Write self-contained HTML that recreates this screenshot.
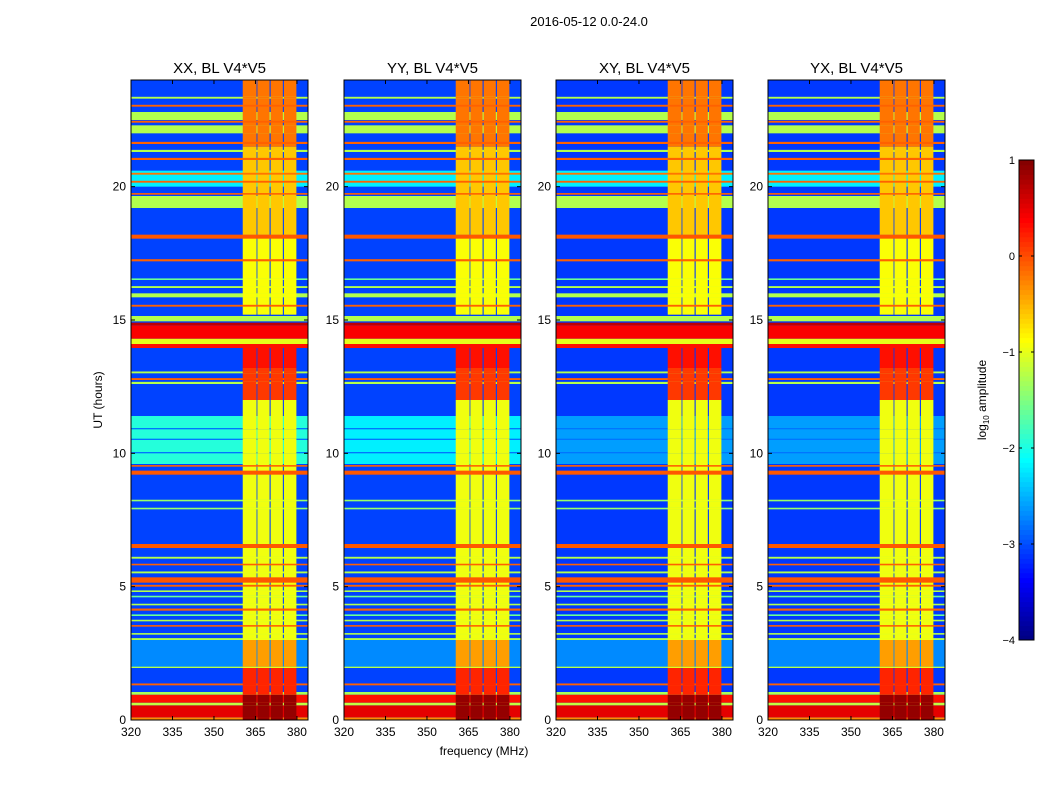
<!DOCTYPE html>
<html><head><meta charset="utf-8"><style>
body{margin:0;background:#fff;}
svg text{font-family:"Liberation Sans","DejaVu Sans",sans-serif;}
</style></head><body>
<svg id="fig" width="1050" height="800" xmlns="http://www.w3.org/2000/svg">
<text x="589" y="26" font-size="13" text-anchor="middle">2016-05-12 0.0-24.0</text>
<text x="484" y="755" font-size="12" text-anchor="middle">frequency (MHz)</text>
<text x="102" y="400" font-size="12" text-anchor="middle" transform="rotate(-90 102 400)">UT (hours)</text>
<g id="panels"></g>
<g id="cbar"></g>
<text x="986" y="400" font-size="12" text-anchor="middle" transform="rotate(-90 986 400)">log<tspan font-size="8" dy="3">10</tspan><tspan dy="-3"> amplitude</tspan></text>
</svg>
<script>
// ---- data ----
const panelTitles = ["XX, BL V4*V5","YY, BL V4*V5","XY, BL V4*V5","YX, BL V4*V5"];
const xTicks = [320,335,350,365,380];
const yTicks = [0,5,10,15,20];
const cbTicks = [1,0,-1,-2,-3,-4];
const backgroundLevel = [-3.05,-3.05,-3.1,-3.1];
const quietLevel = [-1.95,-2.2,-2.6,-2.6]; // 9.6-11.4 h region
// time bands: [startHour, endHour, log10 amplitude]
const bandStart = [0.0,0.1,0.55,0.65,0.95,1.3,1.95,2.0,3.0,3.2,3.5,3.7,3.9,4.1,4.3,4.6,4.8,5.0,5.15,5.5,5.8,6.05,6.45,7.9,8.2,9.2,9.5,10.0,10.5,10.9,12.6,12.75,13.0,13.95,14.1,14.3,14.8,14.95,15.5,15.85,16.2,16.5,17.2,18.05,19.2,19.7,20.15,20.45,21.0,21.3,21.6,22.0,22.4,22.5,23.0,23.3];
const bandEnd   = [0.1,0.55,0.65,0.95,1.05,1.37,2.05,3.0,3.07,3.26,3.56,3.76,3.96,4.18,4.36,4.66,4.86,5.07,5.35,5.57,5.86,6.12,6.6,7.96,8.26,9.35,9.56,10.05,10.55,10.95,12.68,12.82,13.07,14.1,14.3,14.8,14.9,15.15,15.57,16.0,16.27,16.56,17.28,18.2,19.65,19.76,20.22,20.52,21.08,21.38,21.68,22.3,22.47,22.8,23.07,23.37];
const bandValue = [-0.3,0.5,-1.2,0.3,-1.3,-0.1,-1.25,-2.7,-1.25,-1.25,-0.1,-1.25,-1.6,-0.1,-1.25,-1.6,-1.25,-0.1,-0.05,-1.25,-0.1,-1.25,-0.05,-1.4,-1.4,-0.05,-0.1,-2.8,-2.8,-2.8,-1.25,-0.1,-1.25,0.3,-1.0,0.4,0.7,-1.25,-0.1,-1.25,-1.25,-1.6,-0.1,-0.05,-1.25,-0.1,-0.1,-0.2,-0.1,-1.25,-0.1,-1.25,-0.1,-1.25,-0.1,-1.25];
// bright channels [startMHz, endMHz]
const chanStart = [360.4,365.7,370.5,375.3];
const chanEnd   = [365.4,370.1,374.9,379.8];
// channel activity over time
const chanBandStart = [0,1.0,2.0,2.4,2.8,12.0,13.2,15.2,18.2,21.5];
const chanBandEnd   = [1.0,2.0,2.4,2.8,12.0,13.2,13.95,18.2,21.5,24];
const chanBandValue = [0.9,0.2,-1.0,-0.4,-0.95,0.1,0.3,-0.9,-0.6,-0.2];

// ---- rendering ----
const NS="http://www.w3.org/2000/svg";
function jet(v){const t=Math.max(0,Math.min(1,(v+4)/5));
 const c=x=>Math.round(255*Math.max(0,Math.min(1,1.5-Math.abs(x))));
 return `rgb(${c(4*t-3)},${c(4*t-2)},${c(4*t-1)})`;}
function el(tag,attrs,parent){const e=document.createElementNS(NS,tag);for(const k in attrs)e.setAttribute(k,attrs[k]);parent.appendChild(e);return e;}
const panelX=[131,344,556,768], PW=177, PT=80, PB=720;
const fmin=320,fmax=384,hmin=0,hmax=24;
const root=document.getElementById('panels');
panelX.forEach((px,p)=>{
 const xs=f=>px+(f-fmin)/(fmax-fmin)*PW;
 const ys=h=>PB-(h-hmin)/(hmax-hmin)*(PB-PT);
 const g=el('g',{},root);
 
 
 const bg=el('rect',{x:px,y:PT,width:PW,height:PB-PT,fill:jet(backgroundLevel[p])},g);
 
 
 const q=el('rect',{x:px,y:ys(11.4),width:PW,height:ys(9.6)-ys(11.4),fill:jet(quietLevel[p])},g);
 
 
 const q2=el('rect',{x:px,y:ys(20.6),width:PW,height:ys(20.0)-ys(20.6),fill:jet(-2.2)},g);
 
 
 for(let c=0;c<chanStart.length;c++){
  for(let b=0;b<chanBandStart.length;b++){
   const r=el('rect',{x:xs(chanStart[c]),y:ys(chanBandEnd[b]),width:xs(chanEnd[c])-xs(chanStart[c]),height:ys(chanBandStart[b])-ys(chanBandEnd[b]),fill:jet(chanBandValue[b])},g);
   
   
  }
 }
 for(let b=0;b<bandStart.length;b++){
  const y0=ys(bandEnd[b]), hh=Math.max(1,ys(bandStart[b])-ys(bandEnd[b]));
  const r=el('rect',{x:px,y:y0,width:PW,height:hh,fill:jet(bandValue[b])},g);
  
  
  for(let c=0;c<chanStart.length;c++){
   const mid=(bandStart[b]+bandEnd[b])/2;
   let cv=null;
   for(let k=0;k<chanBandStart.length;k++) if(mid>=chanBandStart[k]&&mid<chanBandEnd[k]) cv=chanBandValue[k];
   if(cv!==null && cv>bandValue[b]){
    const o=el('rect',{x:xs(chanStart[c]),y:y0,width:xs(chanEnd[c])-xs(chanStart[c]),height:hh,fill:jet(cv)},g);
    
    
   }
  }
 }
 const fr=el('rect',{x:px,y:PT,width:PW,height:PB-PT,fill:'none',stroke:'#000','stroke-width':1},g);
 
 
 const t=el('text',{x:px+PW/2,y:73,'font-size':15,'text-anchor':'middle'},g);
 t.textContent=panelTitles[p];
 
 
 xTicks.forEach(v=>{
  const x=xs(v);
  el('line',{x1:x,x2:x,y1:PB,y2:PB-4,stroke:'#000'},g);
  el('line',{x1:x,x2:x,y1:PT,y2:PT+4,stroke:'#000'},g);
  const tx=el('text',{x:x,y:PB+16,'font-size':12,'text-anchor':'middle'},g);
  tx.textContent=v;
  
  
 });
 yTicks.forEach(v=>{
  const y=ys(v);
  el('line',{x1:px,x2:px+4,y1:y,y2:y,stroke:'#000'},g);
  el('line',{x1:px+PW,x2:px+PW-4,y1:y,y2:y,stroke:'#000'},g);
  const ty=el('text',{x:px-5,y:y+4,'font-size':12,'text-anchor':'end'},g);
  ty.textContent=v;
  
  
 });
});
const cb=document.getElementById('cbar');
const CX=1019,CW=15,CT=160,CB=640;
const cy=v=>CB-(v+4)/5*(CB-CT);
for(let i=0;i<100;i++){
 const v0=-4+i*0.05;
 const r=el('rect',{x:CX,y:cy(v0+0.05),width:CW,height:cy(v0)-cy(v0+0.05)+0.5,fill:jet(v0+0.025)},cb);
 
 
}
el('rect',{x:CX,y:CT,width:CW,height:CB-CT,fill:'none',stroke:'#000'},cb);
cbTicks.forEach(v=>{
 const y=cy(v);
 el('line',{x1:CX,x2:CX+3,y1:y,y2:y,stroke:'#000'},cb);
 el('line',{x1:CX+CW,x2:CX+CW-3,y1:y,y2:y,stroke:'#000'},cb);
 const t=el('text',{x:CX-4,y:y+4,'font-size':11,'text-anchor':'end'},cb);
 t.textContent=v<0?'\u2212'+(-v):String(v);
 
 
});
</script>
</body></html>
